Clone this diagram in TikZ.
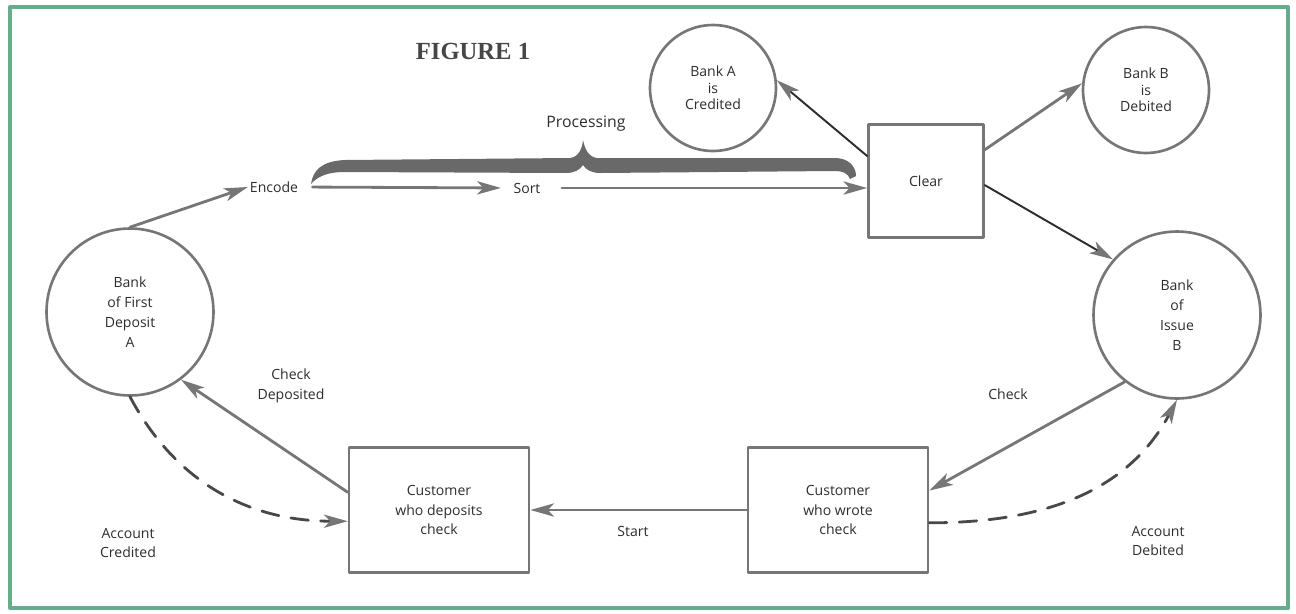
\documentclass[tikz,border=0pt]{standalone}
\usepackage{fontspec}
\setmainfont{Open Sans}
\newfontfamily\figfont{Liberation Serif}
\usetikzlibrary{arrows.meta}
\definecolor{framegreen}{RGB}{104,172,140}
\definecolor{linegray}{RGB}{118,118,118}
\definecolor{inkgray}{RGB}{45,45,45}
\definecolor{dashgray}{RGB}{72,72,72}
\definecolor{bracegray}{RGB}{105,105,105}

\begin{document}
\begin{tikzpicture}[x=0.02cm,y=-0.02cm,line cap=round,line join=round,
  every node/.style={inner sep=1pt,text=inkgray,align=center,font=\fontsize{8}{11.3}\selectfont},
  bank/.style={draw=linegray,line width=1.5pt,circle,minimum size=2.52cm,font=\fontsize{8}{9.4}\selectfont},
  bigbank/.style={draw=linegray,line width=1.5pt,circle,minimum size=3.34cm},
  clearbox/.style={draw=linegray,line width=1.5pt,minimum width=2.3cm,minimum height=2.26cm},
  custbox/.style={draw=linegray,line width=1.5pt,minimum width=3.6cm,minimum height=2.5cm},
  flow/.style={draw=linegray,line width=1.6pt,-{Stealth[length=13.5pt,width=7.5pt,inset=3.5pt,color=linegray]}},
  darkflow/.style={flow,draw=inkgray,line width=1.1pt},
  account/.style={draw=dashgray,line width=1.6pt,dash pattern=on 10pt off 7pt,
    -{Stealth[length=13.5pt,width=7.5pt,inset=3.5pt,color=linegray]}}]
  \useasboundingbox (0,0) rectangle (1296,613);
  \draw[framegreen,line width=2.3pt] (10,7) rectangle (1288,608);
  \node[font=\figfont\bfseries\fontsize{14}{16}\selectfont,text={rgb,255:red,70;green,70;blue,70}] (title) at (473,51) {FIGURE 1};
  % banks and steps
  \node[bigbank] (first) at (130,312) {Bank\\of First\\Deposit\\A};
  \node[bigbank] (issue) at (1177,315) {Bank\\of\\Issue\\B};
  \node[bank] (bankA) at (713,88) {Bank A\\is\\Credited};
  \node[bank] (bankB) at (1146,90) {Bank B\\is\\Debited};
  \node[clearbox] (clear) at (926,181) {Clear};
  \node[custbox] (deposits) at (439,510) {Customer\\who deposits\\check};
  \node[custbox] (wrote) at (838,510) {Customer\\who wrote\\check};
  \node (encode) at (274,187) {Encode};
  \node (sort) at (527,188) {Sort};
  \node[font=\fontsize{9}{11}\selectfont] (processing) at (586,124) {Processing};
  % brace over the processing steps
  \fill[bracegray] (311,184) .. controls (313,170) and (322,161) .. (345,160) -- (570,158)
    .. controls (578,157) and (582,150) .. (583,140) .. controls (585,150) and (589,157) .. (597,158)
    -- (835,158) .. controls (848,158) and (856,166) .. (856,176) -- (850,179)
    .. controls (848,173) and (842,171) .. (835,171) -- (600,173)
    .. controls (592,173) and (586,170) .. (583,165) .. controls (580,170) and (574,173) .. (566,173)
    -- (345,172) .. controls (328,172) and (318,176) .. cycle;
  % labels
  \node (checkdep) at (291,386) {Check\\Deposited};
  \node (check) at (1008,394) {Check};
  \node (start) at (633,531) {Start};
  \node (credited) at (128,543) {Account\\Credited};
  \node (debited) at (1158,541) {Account\\Debited};
  % connectors
  \draw[flow] (first.north) -- (encode.west);
  \draw[flow,shorten <=7pt,shorten >=6pt] (encode.east) -- (sort.west);
  \draw[flow,shorten <=11pt] (sort.east) -- (sort.east -| clear.west);
  \draw[darkflow] (clear.157) -- (bankA.7);
  \draw[flow] (clear.28) -- (bankB.174);
  \draw[darkflow] (clear.-4) -- (issue.139);
  \draw[flow] (issue.-128) -- (wrote.12);
  \draw[flow] (wrote.west) -- (deposits.east);
  \draw[flow] (deposits.169) -- (first.-53);
  \draw[account] (first.south) to[out=-62,in=180] (deposits.187);
  \draw[account] (wrote.-8) to[out=0,in=-118] (issue.-90);
\end{tikzpicture}
\end{document}
